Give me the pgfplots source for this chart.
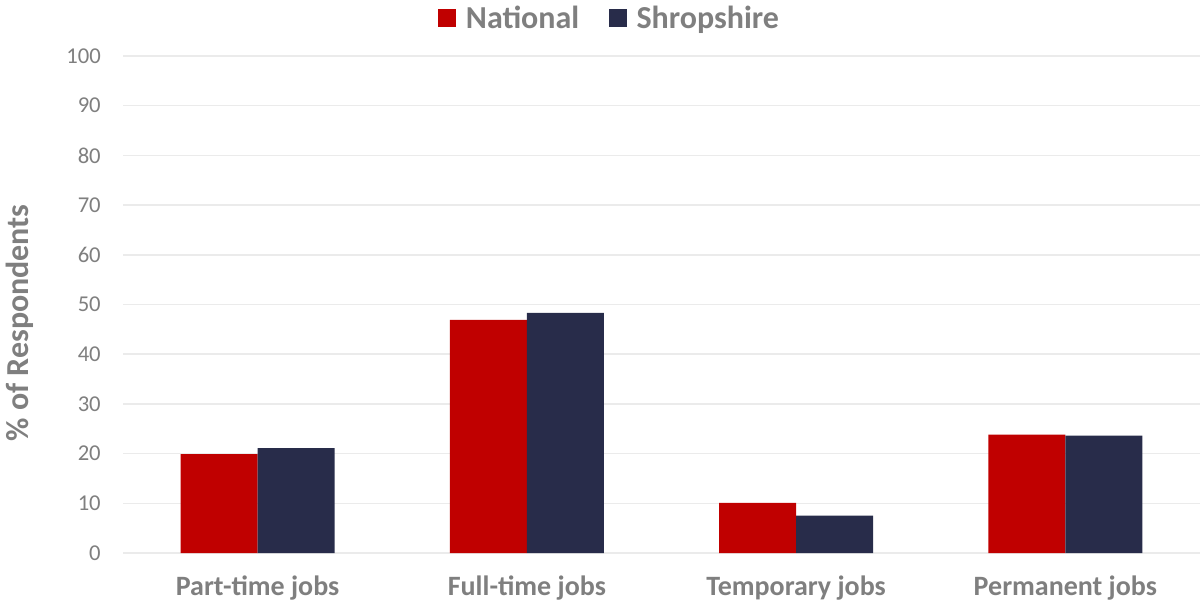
\documentclass[border=0pt]{standalone}
\usepackage{pgfplots}
\pgfplotsset{compat=1.18}
\usepackage{fontspec}
\setmainfont{Carlito}

\definecolor{natred}{HTML}{C00000}
\definecolor{shrop}{HTML}{282C4A}
\definecolor{txtgrey}{HTML}{7F7F7F}
\definecolor{gridgrey}{HTML}{EBEBEB}

\begin{document}
\begin{tikzpicture}
% page frame: 1201 x 603 px at 0.75pt per px
\path[use as bounding box] (-92.25pt,-37.5pt) rectangle (808.5pt,414.75pt);
\begin{axis}[
    scale only axis,
    width=807.75pt, height=372.75pt,
    ybar=0pt, bar width=57.75pt,
    xmin=-0.5, xmax=3.5,
    ymin=0, ymax=100,
    ytick distance=10,
    xtick=data,
    xticklabels={Part-time jobs, Full-time jobs, Temporary jobs, Permanent jobs},
    axis line style={draw=none},
    major tick length=0pt,
    ymajorgrids, grid style={gridgrey, line width=1.1pt},
    /pgf/number format/assume math mode=true,
    yticklabel style={font=\fontsize{17}{20}\selectfont, text=txtgrey, anchor=east, inner sep=0pt, xshift=-16.5pt},
    xticklabel style={font=\fontsize{21}{24}\selectfont\bfseries, text=txtgrey, anchor=base, yshift=-32pt},
    ylabel={\% of Respondents},
    ylabel style={font=\fontsize{24}{28}\selectfont\bfseries, text=txtgrey, at={(axis description cs:-0.0956,0.463)}, anchor=center},
    legend columns=2,
    legend style={draw=none, fill=none, font=\fontsize{24}{28}\selectfont\bfseries, text=txtgrey,
        at={(axis description cs:0.452,1.0765)}, anchor=center,
        /tikz/every even column/.append style={column sep=20pt}},
    legend image code/.code={\fill[#1] (0pt,-7pt) rectangle (13.5pt,6.5pt); \path (19pt,0pt);},
]
\addplot[fill=natred, draw=none] coordinates {(0,19.9) (1,46.9) (2,10.1) (3,23.8)};
\addlegendentry{National}
\addplot[fill=shrop, draw=none] coordinates {(0,21.1) (1,48.3) (2,7.5) (3,23.6)};
\addlegendentry{Shropshire}
\end{axis}
\end{tikzpicture}
\end{document}
